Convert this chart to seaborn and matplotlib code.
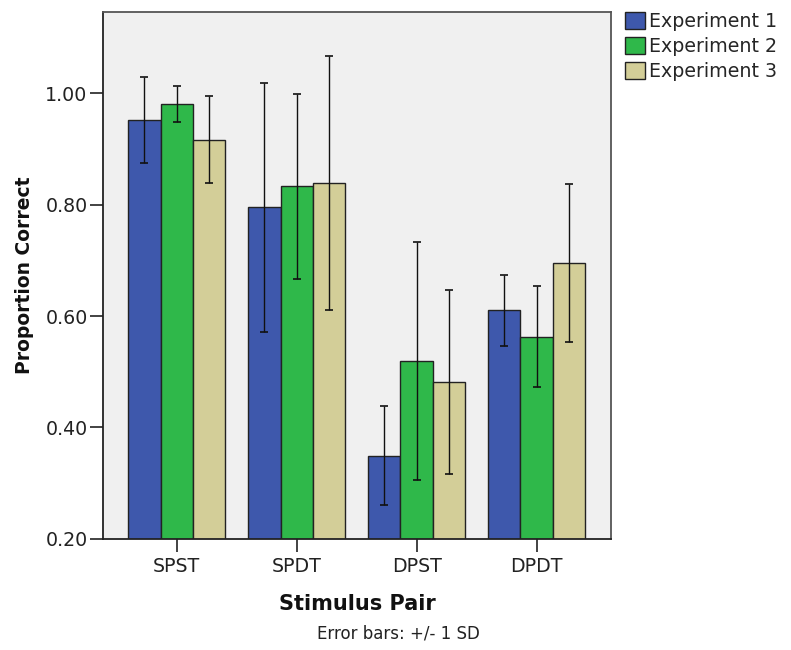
import numpy as np
import pandas as pd
import matplotlib
matplotlib.use("Agg")
import matplotlib.pyplot as plt
import seaborn as sns

categories = ["SPST", "SPDT", "DPST", "DPDT"]
experiments = ["Experiment 1", "Experiment 2", "Experiment 3"]
exp1_mean = [0.952, 0.795, 0.349, 0.610]
exp2_mean = [0.981, 0.833, 0.519, 0.563]
exp3_mean = [0.917, 0.839, 0.481, 0.695]
exp1_sd = [0.077, 0.224, 0.089, 0.064]
exp2_sd = [0.033, 0.166, 0.214, 0.091]
exp3_sd = [0.078, 0.228, 0.165, 0.142]
yticks = [0.20, 0.40, 0.60, 0.80, 1.00]
colors = ["#3E58AC", "#2FB84A", "#D3CE98"]

means = [exp1_mean, exp2_mean, exp3_mean]
sds = [exp1_sd, exp2_sd, exp3_sd]
rows = []
for e, m in zip(experiments, means):
    for c, v in zip(categories, m):
        rows.append({"Stimulus Pair": c, "Experiment": e, "Proportion Correct": v})
df = pd.DataFrame(rows)

sns.set_style("white")
plt.rcParams["font.family"] = ["DejaVu Sans"]

fig = plt.figure(figsize=(7.91, 6.5), dpi=100)
ax = fig.add_axes([103/791, 1-538.7/650, (611-103)/791, (538.7-11.5)/650])
ax.set_facecolor("#F0F0F0")

sns.barplot(data=df, x="Stimulus Pair", y="Proportion Correct", hue="Experiment",
            order=categories, hue_order=experiments, palette=colors,
            edgecolor="#222222", linewidth=1.0, width=0.81, errorbar=None, ax=ax,
            saturation=1)

for cont, sd in zip(ax.containers, sds):
    xs = [b.get_x() + b.get_width()/2 for b in cont]
    ys = [b.get_height() for b in cont]
    ax.errorbar(xs, ys, yerr=sd, fmt="none", ecolor="#111111", elinewidth=1.0,
                capsize=2.8, capthick=1.2, zorder=5)

ax.set_ylim(0.2, 1.147)
ax.set_xlim(-0.615, 3.62)
ax.set_yticks(yticks)
ax.set_yticklabels([f"{t:.2f}" for t in yticks])
ax.tick_params(axis="both", direction="out", length=9.5, width=1.2, color="#222222",
               labelsize=13.7, labelcolor="#222222", pad=1.5, left=True, bottom=True)
ax.tick_params(axis="x", pad=3.5)
for s in ["left", "bottom"]:
    ax.spines[s].set_color("#222222")
    ax.spines[s].set_linewidth(1.3)
for s in ["top", "right"]:
    ax.spines[s].set_color("#555555")
    ax.spines[s].set_linewidth(1.3)
ax.grid(False)

ax.set_xlabel("Stimulus Pair", fontsize=15, fontweight="bold", labelpad=13, color="#111111")
ax.set_ylabel("Proportion Correct", fontsize=13.5, fontweight="bold", labelpad=8, color="#111111")

handles, labels = ax.get_legend_handles_labels()
ax.legend_.remove()
fig.legend(handles, labels, loc="upper left", bbox_to_anchor=(625/791, 1-12/650),
           frameon=False, fontsize=13.7, handlelength=1.05, handleheight=0.95,
           handletextpad=0.2, labelspacing=0.32, borderpad=0, borderaxespad=0)

fig.text(398/791, 1-634/650, "Error bars: +/- 1 SD", ha="center", va="center",
         fontsize=12, color="#222222")

fig.savefig("out.png", dpi=100)
